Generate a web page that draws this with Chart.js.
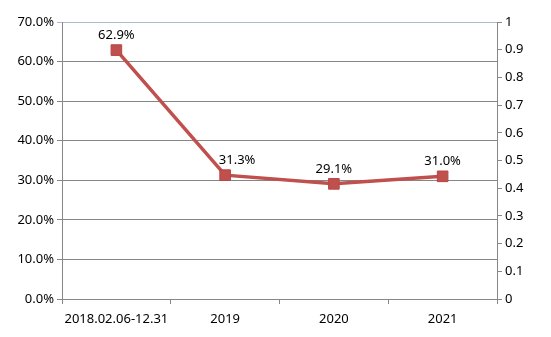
<!DOCTYPE html>
<html>
<head>
<meta charset="utf-8">
<script src="https://cdn.jsdelivr.net/npm/chart.js@4/dist/chart.umd.min.js"></script>
<style>
    html, body { margin: 0; padding: 0; background: #fff; }
    #wrap { width: 551px; height: 337px; position: relative; }
</style>
</head>
<body>
<div id="wrap"><canvas id="c" width="551" height="337"></canvas></div>
<script>
// 分类与数值
var periods = ['2018.02.06-12.31', '2019', '2020', '2021'];
var ratios  = [62.9, 31.3, 29.1, 31.0];
var leftTicks  = [0, 10, 20, 30, 40, 50, 60, 70];
var rightTicks = [0, 0.1, 0.2, 0.3, 0.4, 0.5, 0.6, 0.7, 0.8, 0.9, 1];

var lineColor = '#C0504D';
var font = { family: "'Noto Sans', 'Open Sans', sans-serif", size: 13 };

// 数据点上方的百分比标签
var valueLabels = {
    id: 'valueLabels',
    afterDatasetsDraw: function (chart) {
        var ctx = chart.ctx;
        var meta = chart.getDatasetMeta(0);
        ctx.save();
        ctx.fillStyle = '#000';
        ctx.font = font.size + 'px ' + font.family;
        ctx.textAlign = 'center';
        ctx.textBaseline = 'middle';
        meta.data.forEach(function (pt, i) {
            var dx = i === 1 ? 12 : 0;
            ctx.fillText(ratios[i].toFixed(1) + '%', pt.x + dx, pt.y - 15);
        });
        ctx.restore();
    }
};

new Chart(document.getElementById('c'), {
    type: 'line',
    data: {
        labels: periods,
        datasets: [{
            data: ratios,
            borderColor: lineColor,
            backgroundColor: lineColor,
            borderWidth: 3.5,
            pointStyle: 'rect',
            pointRadius: 7.5,
            pointHoverRadius: 7.5,
            pointBackgroundColor: lineColor,
            pointBorderColor: '#B44844',
            pointBorderWidth: 1,
            tension: 0,
            yAxisID: 'y'
        }]
    },
    options: {
        responsive: false,
        animation: false,
        events: [],
        layout: { padding: { top: 22, left: 0, right: 0, bottom: 0 } },
        plugins: { legend: { display: false }, tooltip: { enabled: false } },
        scales: {
            x: {
                offset: true,
                grid: { offset: true, drawOnChartArea: false, color: '#888', tickLength: 5 },
                border: { color: '#888', width: 1 },
                ticks: { color: '#000', font: font, padding: 7, maxRotation: 0 },
                afterFit: function (s) { s.height = 38; }
            },
            y: {
                position: 'left',
                min: 0, max: 70,
                afterBuildTicks: function (s) {
                    s.ticks = leftTicks.map(function (v) { return { value: v }; });
                },
                grid: {
                    color: function (c) { return c.index === leftTicks.length - 1 ? '#A9BCD3' : '#868686'; },
                    tickLength: 5,
                    drawTicks: true
                },
                border: { color: '#888', width: 1 },
                ticks: {
                    color: '#000', font: font, padding: 3,
                    callback: function (v) { return v.toFixed(1) + '%'; }
                },
                afterFit: function (s) { s.width = 62; }
            },
            y1: {
                position: 'right',
                min: 0, max: 1,
                afterBuildTicks: function (s) {
                    s.ticks = rightTicks.map(function (v) { return { value: v }; });
                },
                grid: { drawOnChartArea: false, color: '#888', tickLength: 5 },
                border: { color: '#888', width: 1 },
                ticks: {
                    color: '#000', font: font, padding: 3,
                    callback: function (v) { return String(Math.round(v * 10) / 10); }
                },
                afterFit: function (s) { s.width = 54; }
            }
        }
    },
    plugins: [valueLabels]
});
</script>
</body>
</html>
